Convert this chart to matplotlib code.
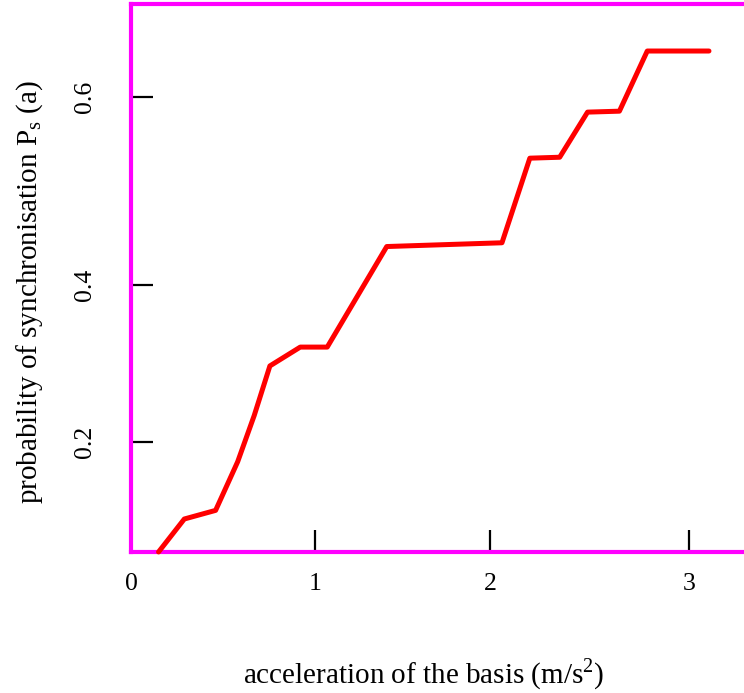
import numpy as np
import matplotlib.pyplot as plt

# probability of synchronisation vs. acceleration of the basis
accel = [0.15, 0.29, 0.46, 0.58, 0.67, 0.755, 0.92, 1.07, 1.41,
         2.06, 2.20, 2.35, 2.49, 2.65, 2.79, 3.10]
p_sync = [0.060, 0.102, 0.113, 0.175, 0.234, 0.297, 0.321, 0.321, 0.441,
          0.445, 0.535, 0.536, 0.584, 0.585, 0.649, 0.649]

x_ticks = [0, 1, 2, 3]
y_ticks = [0.2, 0.4, 0.6]

# the axes are not evenly spaced: relative width of each tick interval
x_knots = [0, 1, 2, 3]
x_gaps = [0, 184, 359, 558]
y_knots = [0.2, 0.4, 0.6]
y_gaps = [0, 157, 345]


def piecewise(xp, fp):
    xp = np.asarray(xp, float)
    fp = np.asarray(fp, float)

    def f(x):
        x = np.asarray(x, float)
        y = np.interp(x, xp, fp)
        lo = fp[0] + (x - xp[0]) * (fp[1] - fp[0]) / (xp[1] - xp[0])
        hi = fp[-1] + (x - xp[-1]) * (fp[-1] - fp[-2]) / (xp[-1] - xp[-2])
        return np.where(x < xp[0], lo, np.where(x > xp[-1], hi, y))
    return f


plt.rcParams['font.family'] = 'Liberation Serif'
plt.rcParams['mathtext.fontset'] = 'custom'
plt.rcParams['mathtext.rm'] = 'Liberation Serif'

fig = plt.figure(figsize=(7.44, 6.93), dpi=100)
ax = fig.add_axes([0.176, 0.2035, 0.824, 0.7907])

ax.set_xscale('function', functions=(piecewise(x_knots, x_gaps), piecewise(x_gaps, x_knots)))
ax.set_yscale('function', functions=(piecewise(y_knots, y_gaps), piecewise(y_gaps, y_knots)))

ax.plot(accel, p_sync, color='red', lw=3.6, solid_joinstyle='round',
        solid_capstyle='round', clip_on=False, zorder=3)

ax.set_xlim(0, 3.276)
ax.set_ylim(0.060, 0.699)

ax.set_xticks(x_ticks)
ax.set_xticklabels([str(t) for t in x_ticks])
ax.set_yticks(y_ticks)
ax.set_yticklabels([f"{t:.1f}" for t in y_ticks])
ax.xaxis.get_major_ticks()[0].tick1line.set_visible(False)

ax.tick_params(axis='both', direction='in', length=16, width=1.6, color='black',
               labelsize=18.5, top=False, right=False)
ax.tick_params(axis='x', pad=15)
ax.tick_params(axis='y', pad=25, labelrotation=90)
for lab in ax.get_yticklabels():
    lab.set_verticalalignment('center')

for side in ('left', 'top', 'bottom'):
    ax.spines[side].set_color('#ff00ff')
    ax.spines[side].set_linewidth(3)
ax.spines['right'].set_visible(False)

ax.set_xlabel('acceleration of the basis (m/s$^2$)', fontsize=21)
ax.set_ylabel(r'probability of synchronisation P$_\mathrm{s}$ (a)', fontsize=21)
ax.xaxis.set_label_coords(0.478, -0.19)
ax.yaxis.set_label_coords(-0.14, 0.474)

fig.savefig('out.png', dpi=100)
